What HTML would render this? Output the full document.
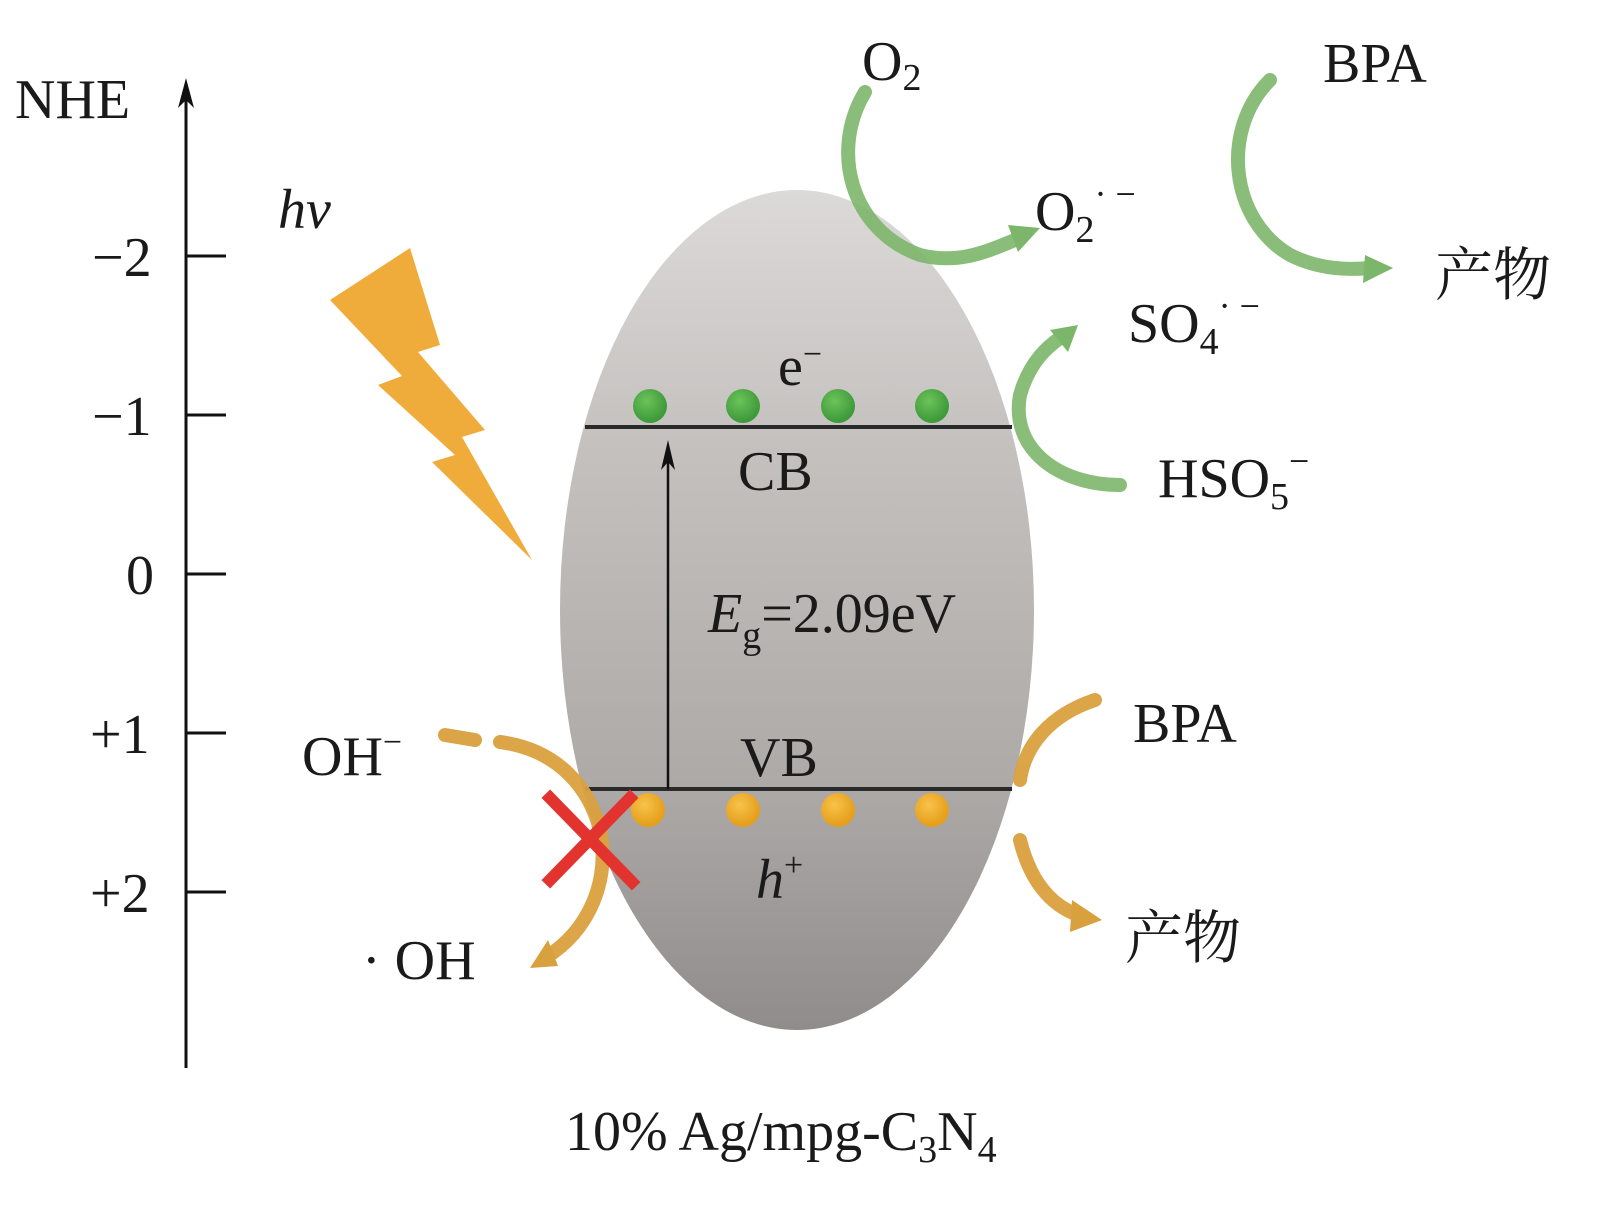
<!DOCTYPE html>
<html><head><meta charset="utf-8"><style>
body{margin:0;background:#fff}
svg{display:block}
text{font-family:"Liberation Serif","Noto Serif CJK SC",serif;fill:#1a1a1a}
</style></head><body>
<svg width="1601" height="1209" viewBox="0 0 1601 1209" xmlns="http://www.w3.org/2000/svg">
<defs>
<linearGradient id="g" x1="0" y1="0" x2="0" y2="1">
<stop offset="0" stop-color="#dcdad8"/>
<stop offset="0.3" stop-color="#c4c1bf"/>
<stop offset="0.7" stop-color="#aeaaa8"/>
<stop offset="1" stop-color="#908c8b"/>
</linearGradient>
<radialGradient id="gd" cx="0.4" cy="0.35" r="0.6"><stop offset="0" stop-color="#6cc35a"/><stop offset="1" stop-color="#3f9a3a"/></radialGradient>
<radialGradient id="od" cx="0.4" cy="0.35" r="0.6"><stop offset="0" stop-color="#f8c24a"/><stop offset="1" stop-color="#e59f1c"/></radialGradient>
</defs>
<line x1="186" y1="1068" x2="186" y2="95" stroke="#111" stroke-width="3"/>
<path d="M186,78 L178,108 L186,100 L194,108 Z" fill="#111"/>
<g stroke="#111" stroke-width="3">
<line x1="186" y1="256" x2="226" y2="256"/><line x1="186" y1="415" x2="226" y2="415"/>
<line x1="186" y1="574" x2="226" y2="574"/><line x1="186" y1="733" x2="226" y2="733"/>
<line x1="186" y1="892" x2="226" y2="892"/></g>
<g font-size="56">
<text x="15" y="118">NHE</text>
<text x="92" y="276">−2</text><text x="92" y="435">−1</text>
<text x="126" y="594">0</text><text x="90" y="753">+1</text><text x="90" y="912">+2</text>
</g>
<text x="278" y="228" font-size="56" font-style="italic">hv</text>
<path d="M330,300 L410,248 L440,345 L418,352 L485,430 L462,437 L532,560 L432,462 L455,455 L378,385 L402,376 Z" fill="#f0ac3a"/>
<ellipse cx="797" cy="610" rx="237" ry="420" fill="url(#g)"/>
<line x1="585" y1="427" x2="1012" y2="427" stroke="#2a2a2a" stroke-width="4"/>
<line x1="585" y1="789" x2="1012" y2="789" stroke="#2a2a2a" stroke-width="4"/>
<g fill="url(#gd)"><circle cx="650" cy="406" r="17"/><circle cx="743" cy="406" r="17"/><circle cx="838" cy="406" r="17"/><circle cx="932" cy="406" r="17"/></g>
<g fill="url(#od)"><circle cx="648" cy="810" r="17"/><circle cx="743" cy="810" r="17"/><circle cx="838" cy="810" r="17"/><circle cx="932" cy="810" r="17"/></g>
<line x1="668" y1="789" x2="668" y2="460" stroke="#111" stroke-width="2.5"/>
<path d="M668,440 L661,470 L668,462 L675,470 Z" fill="#111"/>
<g font-size="56">
<text x="778" y="385">e<tspan font-size="34" dy="-20">−</tspan></text>
<text x="738" y="490">CB</text>
<text x="740" y="776">VB</text>
<text x="708" y="632"><tspan font-style="italic">E</tspan><tspan font-size="38" dy="16">g</tspan><tspan dy="-16">=2.09eV</tspan></text>
<text x="756" y="898" font-style="italic">h<tspan font-size="34" dy="-22" font-style="normal">+</tspan></text>
<text x="565" y="1150">10% Ag/mpg-C<tspan font-size="38" dy="12">3</tspan><tspan dy="-12">N</tspan><tspan font-size="38" dy="12">4</tspan></text>
</g>
<g fill="none" stroke="#7cb66a" stroke-width="14" stroke-linecap="round" opacity="0.9">
<path d="M865,92 C830,150 850,230 920,255 C960,265 990,250 1015,240"/>
<path d="M1270,80 C1220,130 1230,220 1290,255 C1320,270 1350,270 1370,268"/>
<path d="M1120,485 C1060,485 1010,450 1020,395 C1030,360 1050,345 1060,338"/>
</g>
<g fill="#7cb66a">
<path d="M1040,228 L1008,225 L1018,252 Z"/>
<path d="M1393,268 L1365,255 L1363,283 Z"/>
<path d="M1078,325 L1050,330 L1068,352 Z"/>
</g>
<g fill="none" stroke="#d9a03e" stroke-width="14" stroke-linecap="round" opacity="0.95">
<path d="M445,735 L475,740"/>
<path d="M500,742 C560,750 590,790 600,830 C610,880 590,930 545,958"/>
<path d="M1095,700 C1050,715 1025,745 1020,780"/>
<path d="M1020,840 C1030,880 1050,905 1078,915"/>
</g>
<g fill="#d9a03e"><path d="M1102,920 L1072,900 L1070,932 Z"/><path d="M530,968 L548,940 L558,966 Z"/></g>
<g stroke="#e3332f" stroke-width="12" stroke-linecap="square">
<line x1="550" y1="798" x2="632" y2="882"/><line x1="630" y1="798" x2="550" y2="880"/>
</g>
<g font-size="56">
<text x="862" y="80">O<tspan font-size="38" dy="10">2</tspan></text>
<text x="1035" y="230">O<tspan font-size="38" dy="12">2</tspan><tspan font-size="36" dy="-36">· −</tspan></text>
<text x="1323" y="82">BPA</text>
<text x="1435" y="295" font-family="Noto Sans CJK SC,sans-serif" font-size="58">产物</text>
<text x="1128" y="342">SO<tspan font-size="38" dy="12">4</tspan><tspan font-size="36" dy="-36">· −</tspan></text>
<text x="1158" y="497">HSO<tspan font-size="38" dy="12">5</tspan><tspan font-size="36" dy="-36">−</tspan></text>
<text x="1133" y="742">BPA</text>
<text x="1125" y="958" font-family="Noto Sans CJK SC,sans-serif" font-size="58">产物</text>
<text x="302" y="775">OH<tspan font-size="34" dy="-22">−</tspan></text>
<text x="362" y="979">· OH</text>
</g>
</svg>
</body></html>
